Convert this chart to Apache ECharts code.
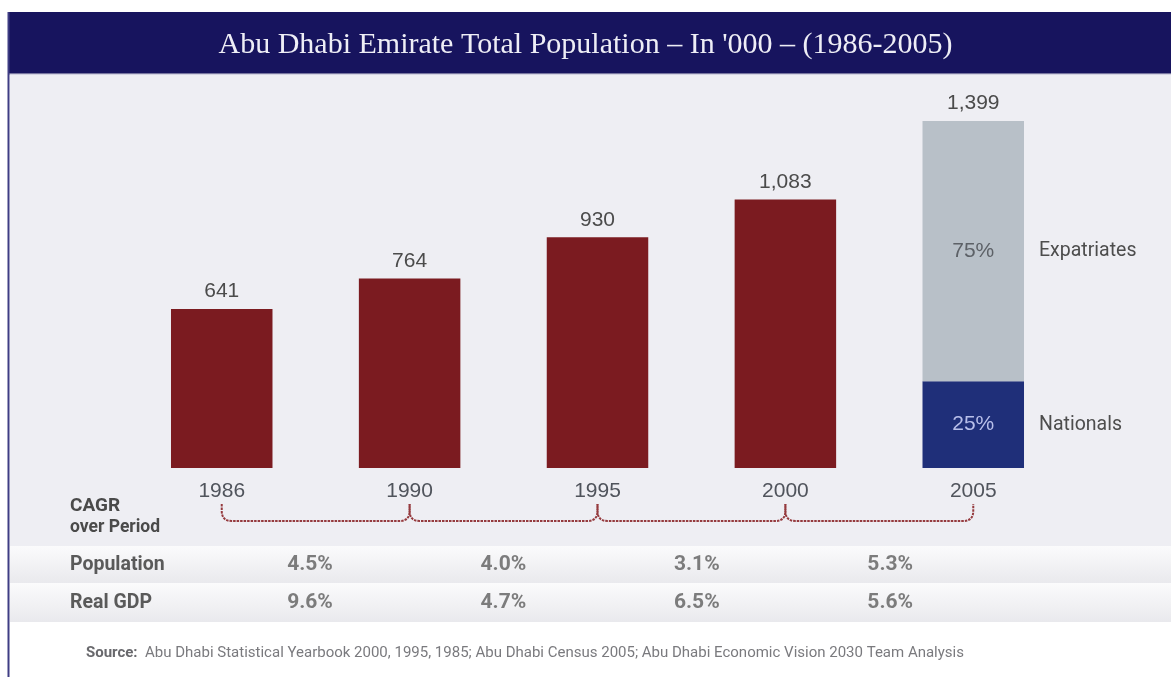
<!DOCTYPE html>
<html>
<head>
<meta charset="utf-8">
<script src="https://cdn.jsdelivr.net/npm/echarts@6/dist/echarts.min.js"></script>
<style>
  html, body { margin: 0; padding: 0; background: #fff; }
  #chart { width: 1171px; height: 677px; }
</style>
</head>
<body>
<div id="chart"></div>
<script>
const years = ['1986', '1990', '1995', '2000', '2005'];
const totals = [641, 764, 930, 1083, 1399];
const splitYear = '2005';
const nationalsPct = 25;
const expatsPct = 75;
const periods = [['1986', '1990'], ['1990', '1995'], ['1995', '2000'], ['2000', '2005']];
const rowNames = ['Population', 'Real GDP'];
const popCagr = [4.5, 4.0, 3.1, 5.3];
const gdpCagr = [9.6, 4.7, 6.5, 5.6];

const COND = "Roboto, 'DejaVu Sans Condensed', sans-serif";
const SANS = "'Liberation Sans', Arial, sans-serif";

const splitIdx = years.indexOf(splitYear);
const splitTotal = totals[splitIdx];
const onlySplit = v => years.map((y, i) => (i === splitIdx ? v : '-'));

const nationalsData = onlySplit(splitTotal * nationalsPct / 100);
const expatsData = onlySplit(splitTotal * expatsPct / 100);

// 2005 total is only used for its label; the stacked split is drawn over it
const totalData = totals.map((v, i) => i === splitIdx
  ? { value: v, itemStyle: { color: 'rgba(0,0,0,0)' } }
  : v);

const periodNames = periods.map(p => p[0] + '-' + p[1]);
const cagrPoints = [];
popCagr.forEach((v, i) => cagrPoints.push([periodNames[i], rowNames[0], v]));
gdpCagr.forEach((v, i) => cagrPoints.push([periodNames[i], rowNames[1], v]));

const braceData = periods.map(p => [years.indexOf(p[0]), years.indexOf(p[1])]);

function renderBrace(params, api) {
  const a = api.coord([api.value(0), 0]);
  const b = api.coord([api.value(1), 0]);
  const y0 = a[1] + 36, y1 = a[1] + 53, r = 10;
  const d = 'M' + a[0] + ' ' + y0 + ' L' + a[0] + ' ' + (y1 - r) +
    ' Q' + a[0] + ' ' + y1 + ' ' + (a[0] + r) + ' ' + y1 +
    ' L' + (b[0] - r) + ' ' + y1 +
    ' Q' + b[0] + ' ' + y1 + ' ' + b[0] + ' ' + (y1 - r) +
    ' L' + b[0] + ' ' + y0;
  return {
    type: 'path',
    shape: { pathData: d },
    style: { fill: 'none', stroke: '#953a3e', lineWidth: 2, lineDash: [2.5, 1] }
  };
}

const band = (y, h) => ({
  type: 'rect', z: -10, silent: true,
  shape: { x: 10, y: y, width: 1161, height: h },
  style: {
    fill: new echarts.graphic.LinearGradient(0, 0, 0, 1, [
      { offset: 0, color: '#fbfbfc' }, { offset: 1, color: '#e9e9ed' }
    ])
  }
});

const chart = echarts.init(document.getElementById('chart'));
chart.setOption({
  animation: false,
  textStyle: { fontFamily: SANS },
  title: {
    text: "Abu Dhabi Emirate Total Population \u2013 In '000 \u2013 (1986-2005)",
    left: 'center', top: 25,
    textStyle: { fontFamily: "'Liberation Serif', 'DejaVu Serif', serif", fontWeight: 'normal', fontSize: 30, color: '#eeeef6' }
  },
  graphic: [
    { type: 'rect', z: -10, silent: true, shape: { x: 8, y: 12, width: 1163, height: 61 }, style: { fill: '#17145e' } },
    { type: 'rect', z: -10, silent: true, shape: { x: 8, y: 73, width: 1163, height: 1.5 }, style: { fill: '#77759f' } },
    { type: 'rect', z: -10, silent: true, shape: { x: 10, y: 74.5, width: 1161, height: 471.5 }, style: { fill: '#eeeef3' } },
    band(546, 37),
    band(583, 39),
    { type: 'rect', z: -9, silent: true, shape: { x: 7.5, y: 12, width: 2, height: 665 }, style: { fill: '#3f3d84' } },
    { type: 'text', z: 5, silent: true, style: { x: 70, y: 506, text: 'CAGR', verticalAlign: 'middle', font: 'bold 19px ' + COND, fill: '#4a4a4a' } },
    { type: 'text', z: 5, silent: true, style: { x: 70, y: 528, text: 'over Period', verticalAlign: 'middle', font: 'bold 17.5px ' + COND, fill: '#4a4a4a' } },
    {
      type: 'text', z: 5, silent: true,
      style: {
        x: 86, y: 653, verticalAlign: 'middle',
        text: '{b|Source:}  Abu Dhabi Statistical Yearbook 2000, 1995, 1985; Abu Dhabi Census 2005; Abu Dhabi Economic Vision 2030 Team Analysis',
        font: '15px ' + COND, fill: '#7a7a7e',
        rich: { b: { font: 'bold 15px ' + COND, fill: '#68686c' } }
      }
    }
  ],
  grid: [
    { left: 127.8, width: 939.4, top: 96, height: 372, outerBoundsMode: 'none' },
    { left: 213.3, width: 773.6, top: 546, height: 76, outerBoundsMode: 'none' }
  ],
  xAxis: [
    {
      type: 'category', data: years, gridIndex: 0,
      axisLine: { show: false }, axisTick: { show: false }, splitLine: { show: false },
      axisLabel: { margin: 13, fontSize: 21, color: '#50545c', fontFamily: SANS }
    },
    { type: 'category', gridIndex: 1, data: periodNames, show: false }
  ],
  yAxis: [
    { type: 'value', gridIndex: 0, min: 0, max: 1500, show: false },
    {
      type: 'category', gridIndex: 1, data: rowNames, inverse: true,
      axisLine: { show: false }, axisTick: { show: false }, splitLine: { show: false },
      axisLabel: { align: 'left', margin: 143.3, fontSize: 19.5, fontWeight: 'bold', color: '#5a5a5a', fontFamily: COND }
    }
  ],
  series: [
    {
      name: 'Total', type: 'bar', data: totalData, barWidth: 101.5, barGap: '-100%',
      itemStyle: { color: '#7b1b20' },
      label: {
        show: true, position: 'top', distance: 7, fontSize: 21, color: '#4b4b4b',
        formatter: p => p.value.toLocaleString('en-US')
      }
    },
    {
      name: 'Nationals', type: 'bar', stack: 'split', data: nationalsData, barWidth: 101.5, barGap: '-100%',
      itemStyle: { color: '#1f2f79' },
      label: { show: true, position: 'inside', fontSize: 21, color: '#b8bfea', formatter: nationalsPct + '%' }
    },
    {
      name: 'Expatriates', type: 'bar', stack: 'split', data: expatsData, barWidth: 101.5, barGap: '-100%',
      itemStyle: { color: '#b8c0c8' },
      label: { show: true, position: 'inside', fontSize: 21, color: '#5d6167', formatter: expatsPct + '%' }
    },
    {
      name: 'Nationals label', type: 'bar', stack: 'names', data: nationalsData, barWidth: 101.5, barGap: '-100%',
      itemStyle: { color: 'rgba(0,0,0,0)' }, silent: true,
      label: { show: true, position: 'right', distance: 15, fontSize: 19.5, color: '#4d4d4d', fontFamily: COND, formatter: 'Nationals' }
    },
    {
      name: 'Expatriates label', type: 'bar', stack: 'names', data: expatsData, barWidth: 101.5, barGap: '-100%',
      itemStyle: { color: 'rgba(0,0,0,0)' }, silent: true,
      label: { show: true, position: 'right', distance: 15, fontSize: 19.5, color: '#4d4d4d', fontFamily: COND, formatter: 'Expatriates' }
    },
    {
      name: 'CAGR brace', type: 'custom', xAxisIndex: 0, yAxisIndex: 0, clip: false, silent: true,
      data: braceData, renderItem: renderBrace
    },
    {
      name: 'CAGR', type: 'scatter', xAxisIndex: 1, yAxisIndex: 1, data: cagrPoints,
      symbolSize: 1, itemStyle: { color: 'rgba(0,0,0,0)' }, silent: true,
      label: {
        show: true, position: 'inside', fontSize: 21, fontWeight: 'bold', color: '#5e5e5e', fontFamily: COND,
        formatter: p => p.value[2].toFixed(1) + '%'
      }
    }
  ]
});
</script>
</body>
</html>
